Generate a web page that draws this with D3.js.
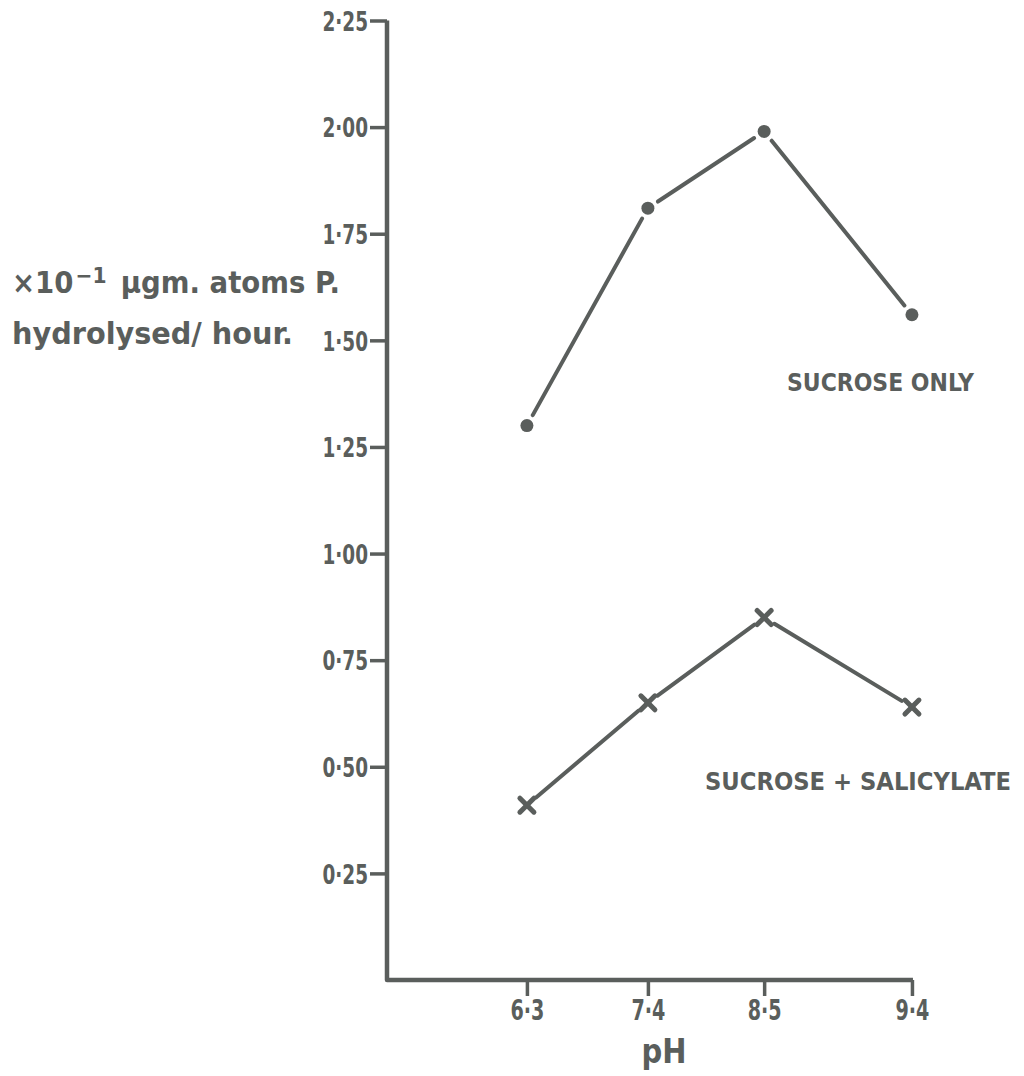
<!DOCTYPE html>
<html>
<head>
<meta charset="utf-8">
<script src="https://cdn.jsdelivr.net/npm/d3@7"></script>
<style>
  html, body { margin: 0; padding: 0; background: #ffffff; }
  svg { display: block; }
  text { font-family: "DejaVu Sans Condensed", "DejaVu Sans", sans-serif; font-weight: bold; fill: #5a5e5c; }
</style>
</head>
<body>
<div id="chart"></div>
<script>
// ---- data ----
const pHValues = [6.3, 7.4, 8.5, 9.4];
const pHLabels = ["6·3", "7·4", "8·5", "9·4"];
const sucroseOnly = [1.30, 1.81, 1.99, 1.56];
const sucroseSalicylate = [0.41, 0.65, 0.85, 0.64];
const yTicks = [0.25, 0.50, 0.75, 1.00, 1.25, 1.50, 1.75, 2.00, 2.25];
const yTickLabels = ["0·25", "0·50", "0·75", "1·00", "1·25", "1·50", "1·75", "2·00", "2·25"];
const seriesNames = ["SUCROSE ONLY", "SUCROSE + SALICYLATE"];

// ---- layout ----
const W = 1024, H = 1076;
const plotLeft = 387, plotTop = 20.5, plotW = 526, plotBottom = 980;
const ink = "#5a5e5c";
// hand-drawn (uneven) spacing of the pH ticks along the axis, as fractions of axis length
const pHFrac = [0.266, 0.496, 0.717, 0.998];

const svg = d3.select("#chart").append("svg").attr("width", W).attr("height", H);

const x = d3.scaleLinear().domain(pHValues).range(pHFrac.map(f => plotLeft + f * plotW));
const y = d3.scaleLinear().domain([0, 2.25]).range([plotBottom, plotTop]);

function squeeze(sel, k) {
  sel.each(function () {
    const w = this.getComputedTextLength();
    d3.select(this).attr("textLength", w * k).attr("lengthAdjust", "spacingAndGlyphs");
  });
}

// y axis
const yAxis = d3.axisLeft(y).tickValues(yTicks).tickSize(17).tickSizeOuter(0).tickPadding(2)
  .tickFormat((d, i) => yTickLabels[i]);
const gy = svg.append("g").attr("transform", `translate(${plotLeft},0)`).call(yAxis);
gy.select(".domain").remove();
gy.selectAll(".tick line").attr("stroke", ink).attr("stroke-width", 3.5);
gy.selectAll(".tick text").attr("font-size", 27).attr("fill", ink)
  .attr("font-family", "'DejaVu Sans Condensed', 'DejaVu Sans', sans-serif")
  .attr("font-weight", "bold").attr("dy", "0.36em")
  .call(squeeze, 0.76);

// x axis
const xAxis = d3.axisBottom(x).tickValues(pHValues).tickSize(16).tickSizeOuter(0).tickPadding(4)
  .tickFormat((d, i) => pHLabels[i]);
const gx = svg.append("g").attr("transform", `translate(0,${plotBottom})`).call(xAxis);
gx.select(".domain").remove();
gx.selectAll(".tick line").attr("stroke", ink).attr("stroke-width", 3.5);
gx.selectAll(".tick text").attr("font-size", 28).attr("fill", ink)
  .attr("font-family", "'DejaVu Sans Condensed', 'DejaVu Sans', sans-serif")
  .attr("font-weight", "bold")
  .call(squeeze, 0.76);

// axis frame (L shape)
svg.append("path")
  .attr("d", d3.line()([[plotLeft, y(2.25)], [plotLeft, y(0)], [x(pHValues[pHValues.length - 1]) + 1, y(0)]]))
  .attr("fill", "none").attr("stroke", ink).attr("stroke-width", 4.5).attr("stroke-linejoin", "round");

// series lines with small gaps near the markers
function drawSeries(values, gap) {
  const pts = values.map((v, i) => [x(pHValues[i]), y(v)]);
  const segs = [];
  for (let i = 0; i < pts.length - 1; i++) {
    const [x1, y1] = pts[i], [x2, y2] = pts[i + 1];
    const len = Math.hypot(x2 - x1, y2 - y1);
    const ux = (x2 - x1) / len, uy = (y2 - y1) / len;
    segs.push([[x1 + ux * gap, y1 + uy * gap], [x2 - ux * gap, y2 - uy * gap]]);
  }
  svg.append("g").selectAll("path").data(segs).join("path")
    .attr("d", d => d3.line()(d))
    .attr("fill", "none").attr("stroke", ink).attr("stroke-width", 4).attr("stroke-linecap", "round");
  return pts;
}

const p1 = drawSeries(sucroseOnly, 12);
svg.append("g").selectAll("circle").data(p1).join("circle")
  .attr("cx", d => d[0]).attr("cy", d => d[1]).attr("r", 6.5).attr("fill", ink);

const p2 = drawSeries(sucroseSalicylate, 12);
const cr = 7;
const crosses = svg.append("g").selectAll("g").data(p2).join("g")
  .attr("transform", d => `translate(${d[0]},${d[1]})`);
crosses.append("line").attr("x1", -cr).attr("y1", -cr).attr("x2", cr).attr("y2", cr)
  .attr("stroke", ink).attr("stroke-width", 5).attr("stroke-linecap", "round");
crosses.append("line").attr("x1", -cr).attr("y1", cr).attr("x2", cr).attr("y2", -cr)
  .attr("stroke", ink).attr("stroke-width", 5).attr("stroke-linecap", "round");

// series labels
svg.append("text").attr("x", 787).attr("y", y(1.4) + 8).attr("font-size", 25)
  .text(seriesNames[0]).attr("textLength", 187).attr("lengthAdjust", "spacingAndGlyphs");
svg.append("text").attr("x", 705).attr("y", y(0.46) + 6).attr("font-size", 24)
  .text(seriesNames[1]).attr("textLength", 306).attr("lengthAdjust", "spacingAndGlyphs");

// x axis title
svg.append("text").attr("x", 664).attr("y", 1063).attr("text-anchor", "middle").attr("font-size", 33)
  .text("pH").attr("textLength", 45).attr("lengthAdjust", "spacingAndGlyphs");

// y axis title (two lines); the superscript flows inline within the first line
const t1 = svg.append("text").attr("x", 12).attr("y", 293).attr("font-size", 30);
t1.append("tspan").text("×10");
t1.append("tspan").attr("dx", 2).attr("dy", -10).attr("font-size", 22).text("−1");
t1.append("tspan").attr("dx", 14).attr("dy", 10).text("µgm. atoms P.");
squeeze(t1, 1);
t1.attr("textLength", 328).attr("lengthAdjust", "spacingAndGlyphs");
svg.append("text").attr("x", 12).attr("y", 344).attr("font-size", 30)
  .text("hydrolysed/ hour.").attr("textLength", 281).attr("lengthAdjust", "spacingAndGlyphs");
</script>
</body>
</html>
